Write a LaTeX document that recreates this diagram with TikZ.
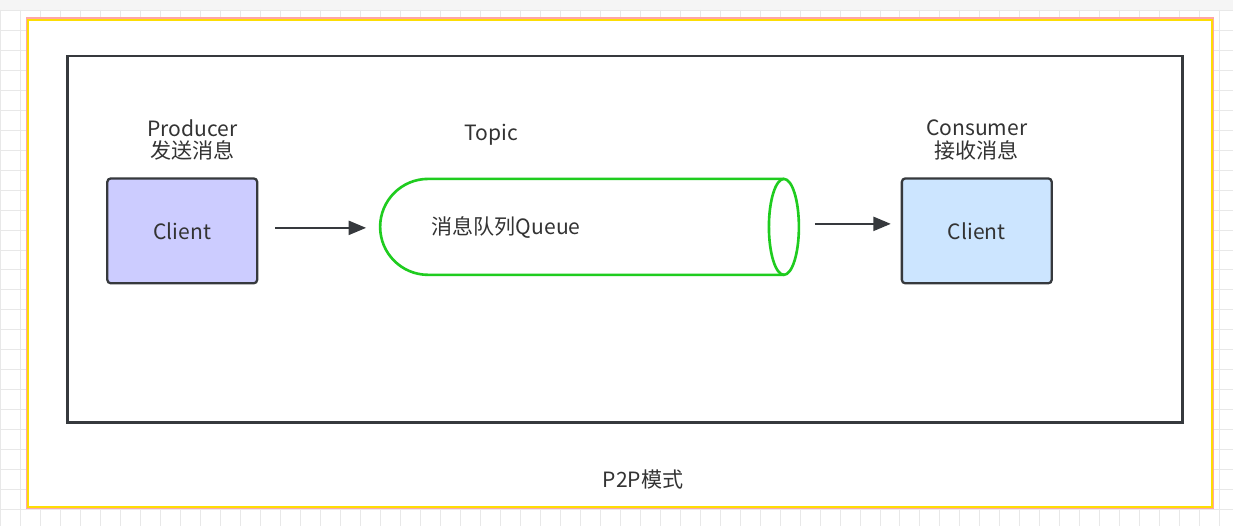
\documentclass[tikz,border=0pt]{standalone}
\usepackage{fontspec}
\setmainfont{Noto Sans CJK SC}
\usetikzlibrary{arrows.meta, shapes.geometric}

\definecolor{producerfill}{HTML}{CCCCFF}
\definecolor{consumerfill}{HTML}{CCE5FF}
\definecolor{queuegreen}{HTML}{1FCC1F}
\definecolor{boxline}{HTML}{36393D}
\definecolor{gridline}{HTML}{E8E8E8}

\tikzset{
	client/.style={draw=boxline, line width=1.3pt, rounded corners=2pt, minimum width=3cm, minimum height=2.1cm, font=\large, text=black!80},
	txt/.style={align=center, font=\large, text=black!80},
	flow/.style={-{Triangle[length=10pt, width=8pt]}, line width=1.3pt, draw=boxline},
}

\begin{document}
\begin{tikzpicture}[x=0.02cm, y=-0.02cm]
	% background and grid
	\fill[white] (0,0) rectangle (1233,526);
	\fill[gray!8] (0,0) rectangle (1233,10);
	\foreach \gx in {0,20,...,1233} \draw[gridline] (\gx,10) -- (\gx,526);
	\foreach \gy in {10,30,...,526} \draw[gridline] (0,\gy) -- (1233,\gy);

	% outer frame
	\draw[red!35, line width=3pt] (28,20) rectangle (1212,507);
	\fill[white] (28,20) rectangle (1212,507);
	\draw[yellow!80!orange, line width=1pt] (28,20) rectangle (1212,507);
	\draw[boxline, line width=1.5pt] (67,56) rectangle (1183,423);

	% clients
	\node[client, fill=producerfill] (producer) at (182,231) {Client};
	\node[client, fill=consumerfill] (consumer) at (977,231) {Client};
	\node[txt] (producerlbl) at (192,140) {Producer\\[-1pt]发送消息};
	\node[txt] (consumerlbl) at (977,140) {Consumer\\[-1pt]接收消息};

	% queue
	\draw[queuegreen, line width=1.5pt, fill=white]
		(784,179) -- (428,179) arc[start angle=270, end angle=90, x radius=48, y radius=48] -- (784,275);
	\draw[queuegreen, line width=1.5pt] (784,227) ellipse[x radius=15, y radius=48];
	\node[txt] (queue) at (506,228) {消息队列Queue};
	\node[txt] (topic) at (491,135) {Topic};

	% arrows
	\coordinate (qin) at (366,228);
	\coordinate (qout) at (815,224);
	\draw[flow] (275,228) -- (qin);
	\draw[flow] (qout) -- (891,224);

	\node[txt] (mode) at (643,480) {P2P模式};
\end{tikzpicture}
\end{document}
